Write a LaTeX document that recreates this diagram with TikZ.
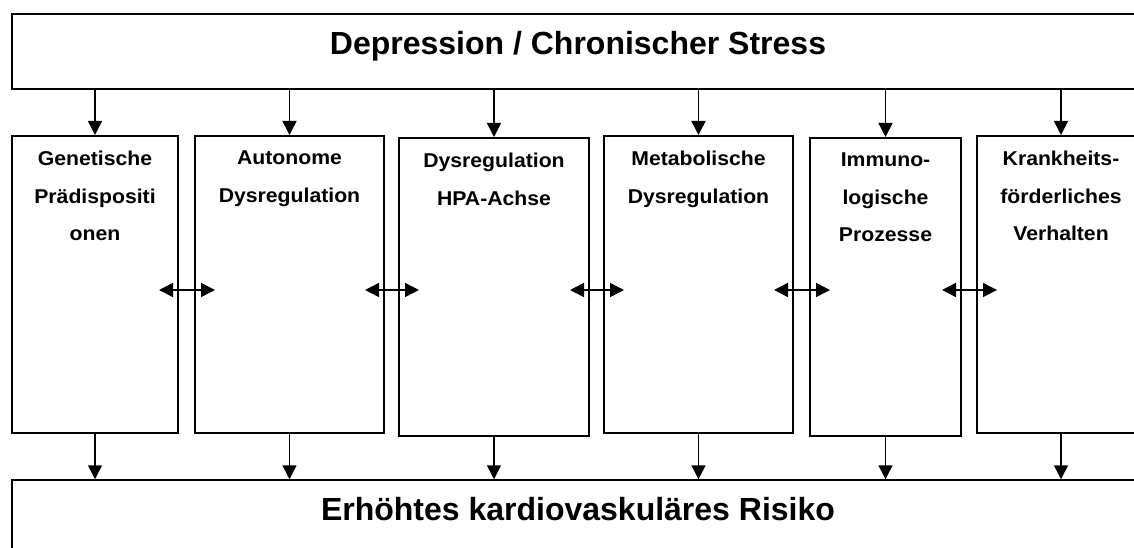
\documentclass[tikz,border=0pt]{standalone}
\usepackage{fontspec}
\setmainfont{Liberation Sans}
\newfontfamily\boxfont[FakeStretch=1.06]{Liberation Sans}
\usetikzlibrary{arrows.meta,calc}

\tikzset{
  box/.style      = {draw, rectangle, line width=2pt, inner sep=0pt},
  bigbox/.style   = {draw, rectangle, line width=1.5pt, inner sep=0pt},
  boxtext/.style  = {font=\boxfont\bfseries\fontsize{20}{37.5}\selectfont, align=center, inner sep=0pt, anchor=north},
  headtext/.style = {font=\bfseries\fontsize{32}{36}\selectfont, inner sep=0pt, anchor=base},
  arr/.style      = {line width=1.5pt, -{Triangle[length=14pt,width=14pt]}},
  dblarr/.style   = {line width=1.5pt, {Triangle[length=14pt,width=14pt]}-{Triangle[length=14pt,width=14pt]}},
}

\begin{document}
\begin{tikzpicture}[x=1pt, y=-1pt]
            \path[use as bounding box, clip]                  (0,0) rectangle (1134,548);
            \fill[white]                                      (0,0) rectangle (1134,548);

            % top and bottom bars
            \node[bigbox, minimum width=1133, minimum height=75]  (stress) at (578.5, 51.5) {};
            \node[bigbox, minimum width=1133, minimum height=80]  (risk)   at (578.5,520.0) {};
            \node[headtext] (stressT) at (578, 55) {Depression / Chronischer Stress};
            \node[headtext] (riskT)   at (578,520) {Erhöhtes kardiovaskuläres Risiko};

            % the six factor boxes
            \node[box, minimum width=166, minimum height=297] (gen) at (  95.0,284.5) {};
            \node[box, minimum width=189, minimum height=297] (aut) at ( 289.5,284.5) {};
            \node[box, minimum width=190, minimum height=298] (hpa) at ( 494.0,287.0) {};
            \node[box, minimum width=189, minimum height=297] (met) at ( 698.5,284.5) {};
            \node[box, minimum width=151, minimum height=298] (imm) at ( 885.5,287.0) {};
            \node[box, minimum width=168, minimum height=297] (kra) at (1061.0,284.5) {};

            \node[boxtext] (genT) at ([yshift=-16pt]gen.north) {Genetische\\Prädispositi\\onen};
            \node[boxtext] (autT) at ([yshift=-16pt]aut.north) {Autonome\\Dysregulation};
            \node[boxtext] (hpaT) at ([yshift=-16pt]hpa.north) {Dysregulation\\HPA-Achse};
            \node[boxtext] (metT) at ([yshift=-16pt]met.north) {Metabolische\\Dysregulation};
            \node[boxtext] (immT) at ([yshift=-16pt]imm.north) {Immuno-\\logische\\Prozesse};
            \node[boxtext] (kraT) at ([yshift=-16pt]kra.north) {Krankheits-\\förderliches\\Verhalten};

            % arrows in and out
            \foreach \b in {gen, aut, hpa, met, imm, kra} {
                \draw[arr] (stress.south -| \b.north) -- (\b.north);
                \draw[arr] (\b.south) -- (\b.south |- risk.north);
            }

            % links between neighbours
            \coordinate (lvl) at (0,290);
            \foreach \a/\b in {gen/aut, aut/hpa, hpa/met, met/imm, imm/kra}
                \draw[dblarr] ($(\a.east |- lvl)+(-20,0)$) -- ($(\b.west |- lvl)+(21,0)$);
\end{tikzpicture}
\end{document}
